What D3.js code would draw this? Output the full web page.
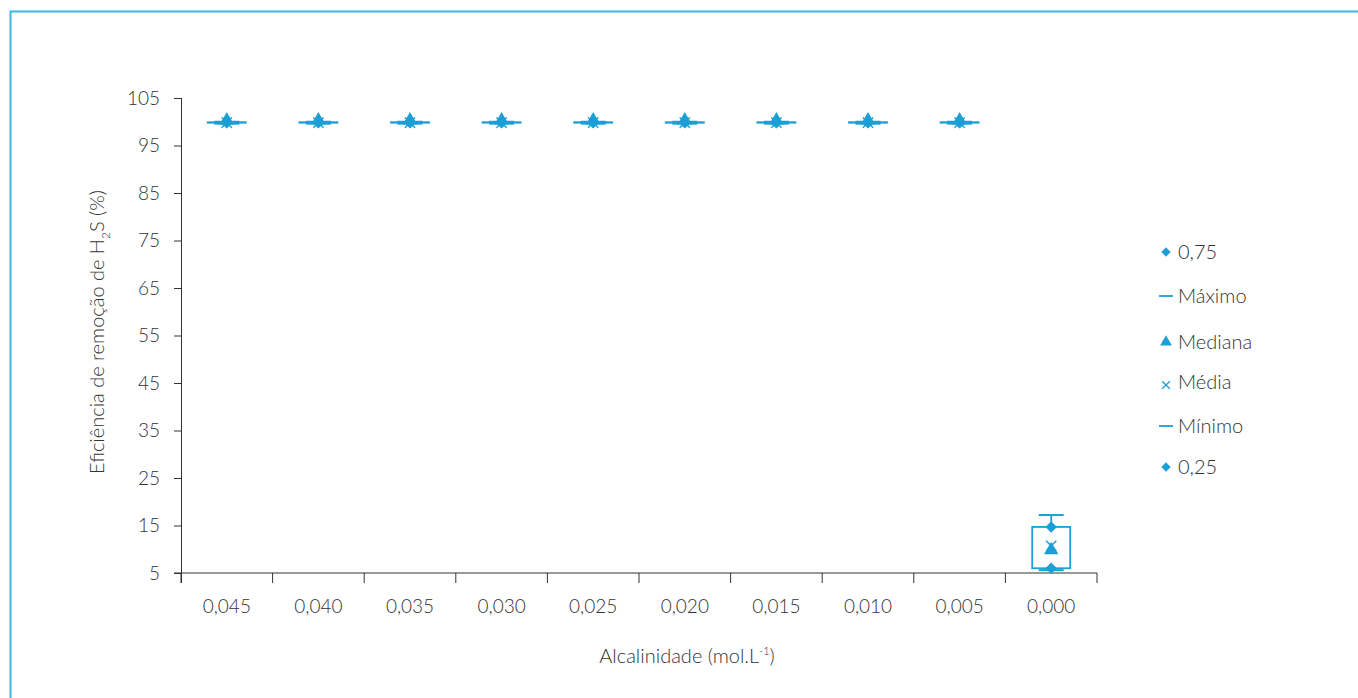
<!DOCTYPE html>
<html>
<head>
<meta charset="utf-8">
<script src="https://cdn.jsdelivr.net/npm/d3@7"></script>
<style>
  body { margin: 0; background: #fff; }
  svg { font-family: Lato, "Open Sans", sans-serif; font-weight: 300; }
</style>
</head>
<body>
<div id="chart"></div>
<script>
// data
var categories = ["0,045", "0,040", "0,035", "0,030", "0,025", "0,020", "0,015", "0,010", "0,005", "0,000"];
var maxima  = [100, 100, 100, 100, 100, 100, 100, 100, 100, 17.2];
var q3      = [99.9, 99.9, 99.9, 99.9, 99.9, 99.9, 99.9, 99.9, 99.9, 14.7];
var medians = [99.9, 99.9, 99.9, 99.9, 99.9, 99.9, 99.9, 99.9, 99.9, 9.4];
var means   = [99.8, 99.8, 99.8, 99.8, 99.8, 99.8, 99.8, 99.8, 99.8, 10.7];
var q1      = [99.8, 99.8, 99.8, 99.8, 99.8, 99.8, 99.8, 99.8, 99.8, 6.0];
var minima  = [99.6, 99.6, 99.6, 99.6, 99.6, 99.6, 99.6, 99.6, 99.6, 5.6];
var yTicks = [5, 15, 25, 35, 45, 55, 65, 75, 85, 95, 105];
var legendItems = ["0,75", "Máximo", "Mediana", "Média", "Mínimo", "0,25"];

var W = 1358, H = 698;
var blue = "#1a9fd6";
var ink = "#333";

var svg = d3.select("#chart").append("svg")
  .attr("width", W)
  .attr("height", H);

// frame
svg.append("path")
  .attr("d", "M10.5," + H + "V11.5H" + W)
  .attr("fill", "none")
  .attr("stroke", "#3cb9e2")
  .attr("stroke-width", 2);

var x = d3.scaleBand().domain(categories).range([181, 1097]);
var y = d3.scaleLinear().domain([5, 105]).range([573, 98]);

var data = categories.map(function(c, i) {
  return { cat: c, max: maxima[i], q3: q3[i], med: medians[i], mean: means[i], q1: q1[i], min: minima[i] };
});

// y axis
var yAxis = svg.append("g")
  .attr("transform", "translate(181,0)")
  .call(d3.axisLeft(y).tickValues(yTicks).tickSize(7).tickPadding(14));
yAxis.select(".domain").attr("d", "M0.5,98V583");
yAxis.attr("font-family", null);
yAxis.selectAll("text").attr("font-size", 19).attr("fill", ink);
yAxis.selectAll("line, path").attr("stroke", ink);

// x axis
var xAxis = svg.append("g")
  .attr("transform", "translate(0,573)");
xAxis.append("line")
  .attr("x1", 174).attr("x2", 1097)
  .attr("stroke", ink);
xAxis.selectAll("line.tk")
  .data(categories.concat([null]))
  .enter().append("line")
  .attr("class", "tk")
  .attr("x1", function(d, i) { return i < categories.length ? x(d) : x.range()[1]; })
  .attr("x2", function(d, i) { return i < categories.length ? x(d) : x.range()[1]; })
  .attr("y1", 0).attr("y2", 10)
  .attr("stroke", ink);
xAxis.selectAll("text")
  .data(categories)
  .enter().append("text")
  .attr("x", function(d) { return x(d) + x.bandwidth() / 2; })
  .attr("y", 40)
  .attr("text-anchor", "middle")
  .attr("font-size", 19)
  .attr("fill", ink)
  .text(function(d) { return d; });

// axis titles
var yt = svg.append("text")
  .attr("transform", "translate(104,332) rotate(-90)")
  .attr("text-anchor", "middle")
  .attr("font-size", 20)
  .attr("fill", ink);
yt.append("tspan").text("Eficiência de remoção de H");
yt.append("tspan").attr("font-size", 12).attr("dy", 6).text("2");
yt.append("tspan").attr("dy", -6).text("S (%)");

var xt = svg.append("text")
  .attr("x", 687).attr("y", 663)
  .attr("text-anchor", "middle")
  .attr("font-size", 20)
  .attr("fill", ink);
xt.append("tspan").text("Alcalinidade (mol.L");
xt.append("tspan").attr("font-size", 11).attr("dy", -8).text("-1");
xt.append("tspan").attr("dy", 8).text(")");

// boxes
var cx = function(d) { return x(d.cat) + x.bandwidth() / 2; };
var g = svg.append("g");
var bw = 38, cap = 25;

g.selectAll("rect.box").data(data).enter().append("rect")
  .attr("x", function(d) { return cx(d) - bw / 2; })
  .attr("y", function(d) { return y(d.q3); })
  .attr("width", bw)
  .attr("height", function(d) { return Math.max(0.5, y(d.q1) - y(d.q3)); })
  .attr("fill", "none")
  .attr("stroke", blue)
  .attr("stroke-width", 1.8);

g.selectAll("line.whisk").data(data).enter().append("line")
  .attr("x1", cx).attr("x2", cx)
  .attr("y1", function(d) { return y(d.max); })
  .attr("y2", function(d) { return y(d.q3); })
  .attr("stroke", blue).attr("stroke-width", 1.8);

["max", "min"].forEach(function(k) {
  g.selectAll("line.cap-" + k).data(data).enter().append("line")
    .attr("x1", function(d) { return cx(d) - cap / 2; })
    .attr("x2", function(d) { return cx(d) + cap / 2; })
    .attr("y1", function(d) { return y(d[k]); })
    .attr("y2", function(d) { return y(d[k]); })
    .attr("stroke", blue).attr("stroke-width", 2);
});

var diamond = d3.symbol().type(d3.symbolDiamond2).size(85);
var tri = d3.symbol().type(d3.symbolTriangle).size(90);
var cross = d3.symbol().type(d3.symbolTimes).size(70);

["q3", "q1"].forEach(function(k) {
  g.selectAll("path.d-" + k).data(data).enter().append("path")
    .attr("d", diamond)
    .attr("transform", function(d) { return "translate(" + cx(d) + "," + y(d[k]) + ")"; })
    .attr("fill", blue);
});
g.selectAll("path.med").data(data).enter().append("path")
  .attr("d", tri)
  .attr("transform", function(d) { return "translate(" + cx(d) + "," + (y(d.med) - 2) + ")"; })
  .attr("fill", blue);
g.selectAll("path.mean").data(data).enter().append("path")
  .attr("d", cross)
  .attr("transform", function(d) { return "translate(" + cx(d) + "," + y(d.mean) + ")"; })
  .attr("fill", "none")
  .attr("stroke", blue)
  .attr("stroke-width", 1.5);

// legend
var legY = [252, 296, 342, 382, 426, 467];
var leg = svg.append("g");
legendItems.forEach(function(name, i) {
  var row = leg.append("g").attr("transform", "translate(1166," + legY[i] + ")");
  if (i === 0 || i === 5) {
    row.append("path").attr("d", d3.symbol().type(d3.symbolDiamond2).size(55)).attr("fill", blue);
  } else if (i === 1 || i === 4) {
    row.append("line").attr("x1", -7).attr("x2", 7).attr("stroke", blue).attr("stroke-width", 1.8);
  } else if (i === 2) {
    row.append("path").attr("d", d3.symbol().type(d3.symbolTriangle).size(60)).attr("fill", blue);
  } else {
    row.append("path").attr("d", d3.symbol().type(d3.symbolTimes).size(40))
      .attr("transform", "translate(0,3)")
      .attr("fill", "none").attr("stroke", blue).attr("stroke-width", 1.3);
  }
  row.append("text")
    .attr("x", 12).attr("y", 7)
    .attr("font-size", 20)
    .attr("fill", ink)
    .text(name);
});
</script>
</body>
</html>
